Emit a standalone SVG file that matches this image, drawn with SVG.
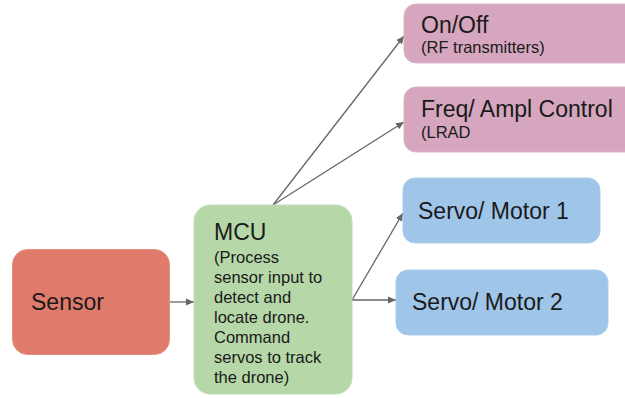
<svg xmlns="http://www.w3.org/2000/svg" width="625" height="398" viewBox="0 0 625 398">
<defs>
<style>
.t{font-family:"Liberation Sans",Arial,sans-serif;fill:#1a1a1a}
.big{font-size:23px}
.sm{font-size:16.5px}
.c{stroke:#666;stroke-width:1.3;fill:none}
</style>
<marker id="ah" viewBox="0 0 10 10" refX="10" refY="5" markerWidth="8" markerHeight="8" markerUnits="userSpaceOnUse" orient="auto">
<path d="M0,0.5 L10,5 L0,9.5 Z" fill="#666"/>
</marker>
</defs>
<rect width="625" height="398" fill="#fff"/>
<g id="connectors">
<line class="c" x1="170" y1="302" x2="194" y2="302" marker-end="url(#ah)"/>
<line class="c" x1="273" y1="205" x2="404" y2="36" marker-end="url(#ah)"/>
<line class="c" x1="273" y1="205" x2="404" y2="122" marker-end="url(#ah)"/>
<line class="c" x1="352" y1="300" x2="403" y2="213" marker-end="url(#ah)"/>
<line class="c" x1="352" y1="300" x2="396" y2="300" marker-end="url(#ah)"/>
</g>
<g id="sensor">
<rect x="12.5" y="249.5" width="157" height="105" rx="15" fill="#e07b6c" stroke="#e49082" stroke-width="1"/>
<text class="t big" x="31" y="310">Sensor</text>
</g>
<g id="mcu">
<rect x="194" y="205" width="158" height="189" rx="16" fill="#b6d7a8" stroke="#c2dcb6" stroke-width="1"/>
<text class="t big" x="214" y="240">MCU</text>
<text class="t sm" x="214" y="263">(Process</text>
<text class="t sm" x="214" y="283">sensor input to</text>
<text class="t sm" x="214" y="303">detect and</text>
<text class="t sm" x="214" y="323">locate drone.</text>
<text class="t sm" x="214" y="343">Command</text>
<text class="t sm" x="214" y="363">servos to track</text>
<text class="t sm" x="214" y="383">the drone)</text>
</g>
<g id="onoff">
<rect x="404" y="4" width="240" height="59" rx="12" fill="#d5a6bd" stroke="#dbb3c6" stroke-width="1"/>
<text class="t big" x="421" y="33">On/Off</text>
<text class="t sm" x="421" y="53">(RF transmitters)</text>
</g>
<g id="freq">
<rect x="404" y="87" width="240" height="65" rx="12" fill="#d5a6bd" stroke="#dbb3c6" stroke-width="1"/>
<text class="t big" x="421" y="117">Freq/ Ampl Control</text>
<text class="t sm" x="421" y="138">(LRAD</text>
</g>
<g id="servo1">
<rect x="403" y="178" width="197" height="65" rx="12" fill="#9fc5e8" stroke="#aacde9" stroke-width="1"/>
<text class="t big" x="418" y="219">Servo/ Motor 1</text>
</g>
<g id="servo2">
<rect x="396" y="270" width="212" height="65" rx="12" fill="#9fc5e8" stroke="#aacde9" stroke-width="1"/>
<text class="t big" x="412" y="310">Servo/ Motor 2</text>
</g>
</svg>
